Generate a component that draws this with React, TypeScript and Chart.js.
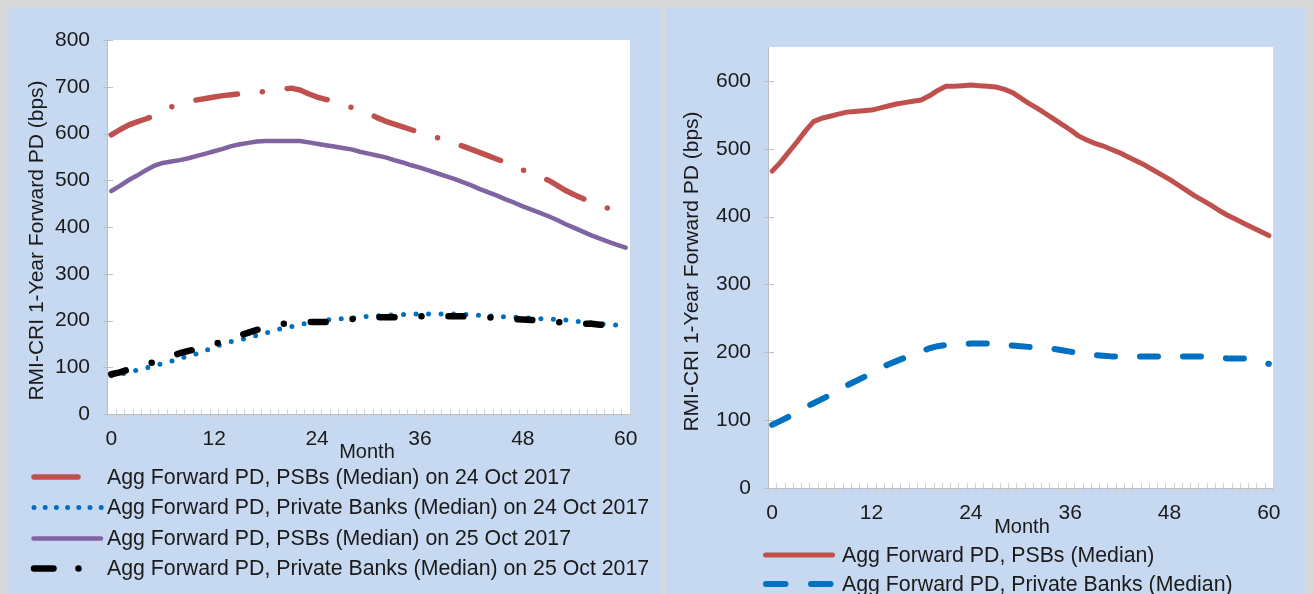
import React, { useEffect, useRef } from "react";
import { Chart, registerables } from "chart.js";

Chart.register(...registerables);

// ---------- data ----------
const months = [
  "0", "1", "2", "3", "4", "5", "6", "7", "8", "9", "10", "11", "12", "13", "14", "15", "16", "17", "18", "19", "20",
  "21", "22", "23", "24", "25", "26", "27", "28", "29", "30", "31", "32", "33", "34", "35", "36", "37", "38", "39", "40",
  "41", "42", "43", "44", "45", "46", "47", "48", "49", "50", "51", "52", "53", "54", "55", "56", "57", "58", "59", "60",
];
const xTickLabels = ["0", "12", "24", "36", "48", "60"];
const leftYTicks = [0, 100, 200, 300, 400, 500, 600, 700, 800];
const rightYTicks = [0, 100, 200, 300, 400, 500, 600];

// Left panel series
const psb24Oct = [
  597, 608, 618, 625, 631, 638, 648, 657, 663, 668, 672, 675, 678, 681, 683, 685, 686, 688, 690, 692, 695,
  697, 693, 685, 678, 673, 669, 664, 656, 650, 643, 634, 626, 620, 614, 608, 602, 597, 591, 585, 579,
  573, 566, 559, 552, 545, 538, 530, 522, 514, 507, 500, 489, 478, 469, 461, 453, 446, 440, 434, 428,
];
const private24Oct = [
  82, 85, 89, 94, 98, 103, 108, 113, 118, 125, 129, 136, 143, 150, 155, 159, 163, 168, 173, 179, 183,
  187, 191, 195, 198, 201, 202, 204, 205, 207, 209, 210, 211, 212, 213, 214, 214, 214, 214, 214, 214,
  213, 212, 211, 210, 209, 208, 207, 206, 205, 204, 203, 202, 201, 199, 197, 195, 193, 191, 190, 189,
];
const psb25Oct = [
  477, 488, 500, 510, 521, 531, 537, 540, 543, 547, 552, 557, 562, 567, 573, 577, 580, 583, 584, 584, 584,
  584, 584, 581, 578, 575, 572, 569, 566, 561, 557, 553, 549, 543, 538, 532, 527, 521, 515, 509, 503,
  496, 489, 481, 474, 467, 459, 452, 444, 437, 430, 423, 415, 406, 398, 390, 382, 375, 368, 362, 356,
];
const private25Oct = [
  85, 89, 95, 101, 106, 111, 117, 124, 130, 135, 139, 144, 150, 155, 161, 168, 174, 180, 185, 189, 193,
  195, 196, 197, 197, 197, 198, 200, 203, 205, 206, 207, 207, 207, 208, 208, 209, 209, 209, 209, 209,
  209, 208, 208, 207, 205, 204, 203, 202, 201, 200, 199, 197, 195, 194, 193, 193, 191, 190, 189, 188,
];

// Right panel series
const psbMedian = [
  467, 480, 495, 510, 526, 540, 545, 548, 551, 554, 555, 556, 557, 560, 563, 566, 568, 570, 572, 578, 586,
  592, 592, 593, 594, 593, 592, 591, 588, 583, 575, 567, 560, 552, 544, 536, 528, 519, 513, 508, 504,
  499, 494, 488, 482, 476, 469, 462, 455, 447, 439, 431, 424, 417, 409, 402, 396, 390, 384, 378, 372,
];
const privateMedian = [
  93, 99, 105, 112, 119, 125, 131, 137, 144, 151, 157, 163, 169, 176, 182, 187, 192, 196, 201, 206, 209,
  211, 212, 212, 213, 213, 213, 212, 211, 210, 209, 208, 207, 207, 205, 203, 201, 199, 197, 196, 195,
  194, 194, 194, 194, 194, 194, 194, 194, 194, 194, 194, 194, 193, 192, 191, 191, 191, 189, 186, 183,
];

const leftLegendLabels = [
  "Agg Forward PD, PSBs (Median) on 24 Oct 2017",
  "Agg Forward PD, Private Banks (Median) on 24 Oct 2017",
  "Agg Forward PD, PSBs (Median) on 25 Oct 2017",
  "Agg Forward PD, Private Banks (Median) on 25 Oct 2017",
];
const rightLegendLabels = ["Agg Forward PD, PSBs (Median)", "Agg Forward PD, Private Banks (Median)"];
const yTitle = "RMI-CRI 1-Year Forward PD (bps)";
const xTitle = "Month";

// ---------- styles ----------
const FONT = '"Liberation Sans", Arial, sans-serif';
const TEXT = "#1a1a1a";
const RED = "#c0504d";
const BLUE = "#0070c0";
const PURPLE = "#8064a2";
const BLACK = "#000000";
const PANEL = "#c6d9f1";
const PAGE = "#d9d9d9";

type LegendItem = {
  label: string;
  color: string;
  width: number;
  dash: number[];
  x0: number;
  x1: number;
  y: number;
};

type Decor = {
  yTicks: number[];
  legend: LegendItem[];
  legendTextX: number;
  yTitlePos: [number, number];
  xTitlePos: [number, number];
};

function makeDecor(d: Decor) {
  return {
    id: "decor",
    beforeDraw(chart: any) {
      const { ctx, chartArea: a } = chart;
      ctx.save();
      ctx.fillStyle = "#ffffff";
      ctx.fillRect(a.left, a.top, a.right - a.left, a.bottom - a.top);
      ctx.restore();
    },
    beforeDatasetsDraw(chart: any) {
      const { ctx, chartArea: a } = chart;
      const ys = chart.scales.y;
      const n = chart.data.labels.length;
      const step = (a.right - a.left) / n;
      ctx.save();
      ctx.lineWidth = 1;
      // x-axis minor tick marks at category boundaries
      ctx.strokeStyle = "#cfcfcf";
      ctx.beginPath();
      for (let i = 0; i <= n; i++) {
        const px = Math.round(a.left + i * step) + 0.5;
        ctx.moveTo(px, a.bottom - 5);
        ctx.lineTo(px, a.bottom + 5);
      }
      ctx.stroke();
      // y tick marks
      ctx.strokeStyle = "#bdbdbd";
      ctx.beginPath();
      for (const v of d.yTicks) {
        const py = Math.round(ys.getPixelForValue(v)) + 0.5;
        ctx.moveTo(a.left - 4, py);
        ctx.lineTo(a.left + 6, py);
      }
      ctx.stroke();
      // axis lines
      ctx.strokeStyle = "#bdbdbd";
      ctx.beginPath();
      ctx.moveTo(Math.round(a.left) + 0.5, a.top);
      ctx.lineTo(Math.round(a.left) + 0.5, a.bottom);
      ctx.moveTo(a.left, Math.round(a.bottom) + 0.5);
      ctx.lineTo(a.right, Math.round(a.bottom) + 0.5);
      ctx.stroke();
      ctx.restore();
    },
    afterDraw(chart: any) {
      const { ctx } = chart;
      ctx.save();
      ctx.fillStyle = TEXT;
      // y title
      ctx.font = `21px ${FONT}`;
      ctx.textAlign = "center";
      ctx.textBaseline = "middle";
      ctx.save();
      ctx.translate(d.yTitlePos[0], d.yTitlePos[1]);
      ctx.rotate(-Math.PI / 2);
      ctx.fillText(yTitle, 0, 0);
      ctx.restore();
      // x title
      ctx.font = `20px ${FONT}`;
      ctx.fillText(xTitle, d.xTitlePos[0], d.xTitlePos[1]);
      // legend
      ctx.font = `21.3px ${FONT}`;
      ctx.textAlign = "left";
      for (const it of d.legend) {
        ctx.save();
        ctx.strokeStyle = it.color;
        ctx.lineWidth = it.width;
        ctx.lineCap = "round";
        ctx.setLineDash(it.dash);
        ctx.beginPath();
        ctx.moveTo(it.x0, it.y);
        ctx.lineTo(it.x1, it.y);
        ctx.stroke();
        ctx.restore();
        ctx.fillText(it.label, d.legendTextX, it.y + 1);
      }
      ctx.restore();
    },
  };
}

function xTickCallback(_v: any, idx: number) {
  const m = months[idx];
  return xTickLabels.includes(m) ? m : "";
}

function baseOptions(yMax: number, yWidth: number, xHeight: number, padding: any) {
  return {
    responsive: false,
    animation: false as const,
    events: [],
    layout: { padding },
    plugins: { legend: { display: false }, tooltip: { enabled: false } },
    elements: { point: { radius: 0 }, line: { tension: 0 } },
    scales: {
      x: {
        type: "category" as const,
        offset: true,
        afterFit: (s: any) => {
          s.height = xHeight;
        },
        grid: { display: false, drawTicks: false },
        border: { display: false },
        ticks: {
          autoSkip: false,
          maxRotation: 0,
          minRotation: 0,
          padding: 13,
          color: TEXT,
          font: { family: FONT, size: 21 },
          callback: xTickCallback,
        },
      },
      y: {
        type: "linear" as const,
        min: 0,
        max: yMax,
        afterFit: (s: any) => {
          s.width = yWidth;
        },
        grid: { display: false, drawTicks: false },
        border: { display: false },
        ticks: {
          stepSize: 100,
          includeBounds: false,
          padding: 17,
          color: TEXT,
          font: { family: FONT, size: 21 },
        },
      },
    },
  };
}

function LeftChart() {
  const ref = useRef<HTMLCanvasElement>(null);
  useEffect(() => {
    if (!ref.current) return;
    const legend: LegendItem[] = [
      { label: leftLegendLabels[0], color: RED, width: 5.5, dash: [44, 25, 0, 25], x0: 26, x1: 92.5, y: 469 },
      { label: leftLegendLabels[1], color: BLUE, width: 5, dash: [0, 11.2], x0: 26, x1: 93.5, y: 499.5 },
      { label: leftLegendLabels[2], color: PURPLE, width: 4.5, dash: [], x0: 25.5, x1: 93, y: 530.5 },
      { label: leftLegendLabels[3], color: BLACK, width: 6.5, dash: [19.5, 25, 0, 25], x0: 26, x1: 93.5, y: 560.5 },
    ];
    const chart = new Chart(ref.current, {
      type: "line",
      data: {
        labels: months,
        datasets: [
          {
            label: leftLegendLabels[0],
            data: psb24Oct,
            borderColor: RED,
            borderWidth: 5.5,
            borderDash: [42, 25, 0, 25],
            borderCapStyle: "round",
            borderJoinStyle: "round",
            order: 3,
          },
          {
            label: leftLegendLabels[1],
            data: private24Oct,
            borderColor: BLUE,
            borderWidth: 5,
            borderDash: [0, 12.5],
            borderCapStyle: "round",
            borderJoinStyle: "round",
            order: 2,
          },
          {
            label: leftLegendLabels[2],
            data: psb25Oct,
            borderColor: PURPLE,
            borderWidth: 4.5,
            borderCapStyle: "round",
            borderJoinStyle: "round",
            order: 1,
          },
          {
            label: leftLegendLabels[3],
            data: private25Oct,
            borderColor: BLACK,
            borderWidth: 6.5,
            borderDash: [15, 27, 0, 27],
            borderCapStyle: "round",
            borderJoinStyle: "round",
            order: 0,
          },
        ],
      },
      options: baseOptions(800, 99, 180, { left: 0, top: 32, right: 31, bottom: 0 }) as any,
      plugins: [
        makeDecor({
          yTicks: leftYTicks,
          legend,
          legendTextX: 99,
          yTitlePos: [29.5, 232.5],
          xTitlePos: [359, 444],
        }),
      ],
    });
    return () => chart.destroy();
  }, []);
  return <canvas ref={ref} width={653} height={586} style={{ display: "block", width: 653, height: 586 }} />;
}

function RightChart() {
  const ref = useRef<HTMLCanvasElement>(null);
  useEffect(() => {
    if (!ref.current) return;
    const legend: LegendItem[] = [
      { label: rightLegendLabels[0], color: RED, width: 5, dash: [], x0: 99.5, x1: 166.5, y: 547 },
      { label: rightLegendLabels[1], color: BLUE, width: 6, dash: [19.5, 25.5], x0: 100, x1: 164.5, y: 576 },
    ];
    const chart = new Chart(ref.current, {
      type: "line",
      data: {
        labels: months,
        datasets: [
          {
            label: rightLegendLabels[0],
            data: psbMedian,
            borderColor: RED,
            borderWidth: 5,
            borderCapStyle: "round",
            borderJoinStyle: "round",
            order: 1,
          },
          {
            label: rightLegendLabels[1],
            data: privateMedian,
            borderColor: BLUE,
            borderWidth: 6,
            borderDash: [18, 25],
            borderCapStyle: "round",
            borderJoinStyle: "round",
            order: 0,
          },
        ],
      },
      options: baseOptions(650, 102, 106, { left: 0, top: 39, right: 40, bottom: 0 }) as any,
      plugins: [
        makeDecor({
          yTicks: rightYTicks,
          legend,
          legendTextX: 176,
          yTitlePos: [26, 263.5],
          xTitlePos: [356, 519.5],
        }),
      ],
    });
    return () => chart.destroy();
  }, []);
  return <canvas ref={ref} width={647} height={586} style={{ display: "block", width: 647, height: 586 }} />;
}

export default function App() {
  useEffect(() => {
    document.body.style.background = PAGE;
    document.body.style.margin = "8px";
  }, []);
  return (
    <div style={{ position: "relative", width: 1305, height: 586, overflow: "hidden" }}>
      <div style={{ position: "absolute", left: 0, top: 0, width: 653, height: 586, background: PANEL }}>
        <LeftChart />
      </div>
      <div style={{ position: "absolute", left: 658, top: 0, width: 647, height: 586, background: PANEL }}>
        <RightChart />
      </div>
    </div>
  );
}
